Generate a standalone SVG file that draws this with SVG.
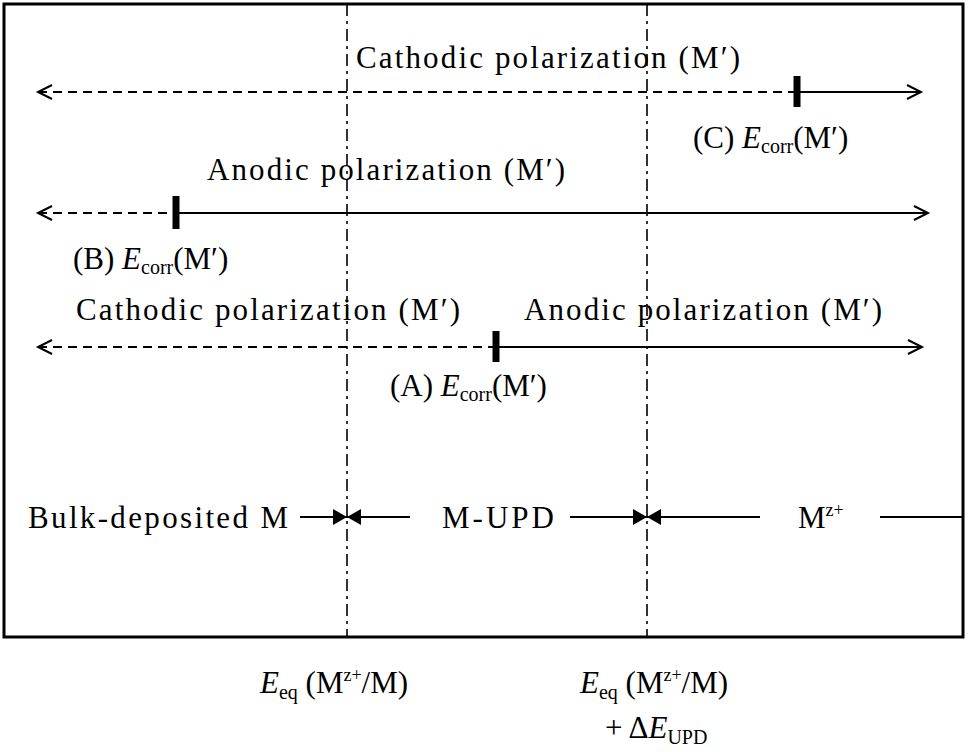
<svg xmlns="http://www.w3.org/2000/svg" width="969" height="752" viewBox="0 0 969 752">
<style>
text,tspan{font-family:"Liberation Serif",serif;font-size:31px;fill:#000}
.sub{font-size:20px}
.sup{font-size:18px}
.d{stroke:#000;stroke-width:2;stroke-dasharray:9,6;fill:none}
.s{stroke:#000;stroke-width:2;fill:none}
.dd{stroke:#000;stroke-width:1.6;stroke-dasharray:12,5,3,5;fill:none}
</style>
<defs>
<marker id="o" markerWidth="20" markerHeight="20" refX="16" refY="8" orient="auto-start-reverse" markerUnits="userSpaceOnUse"><path d="M2,1 L16,8 L2,15" fill="none" stroke="#000" stroke-width="2"/></marker>
<marker id="f" markerWidth="20" markerHeight="20" refX="14" refY="8" orient="auto" markerUnits="userSpaceOnUse"><path d="M0,0 L14,8 L0,16 Z" fill="#000"/></marker>
</defs>
<rect x="4" y="4" width="959" height="633" fill="#fff" stroke="#000" stroke-width="3"/>
<g id="guides">
<line class="dd" x1="347" y1="4" x2="347" y2="637"/>
<line class="dd" x1="647" y1="4" x2="647" y2="637"/>
</g>
<g id="connectors">
<line class="d" x1="38" y1="92" x2="797" y2="92" marker-start="url(#o)"/>
<line class="s" x1="797" y1="92" x2="921" y2="92" marker-end="url(#o)"/>
<line class="d" x1="38" y1="213" x2="176" y2="213" marker-start="url(#o)"/>
<line class="s" x1="176" y1="213" x2="928" y2="213" marker-end="url(#o)"/>
<line class="d" x1="38" y1="347" x2="496" y2="347" marker-start="url(#o)"/>
<line class="s" x1="496" y1="347" x2="922" y2="347" marker-end="url(#o)"/>
<line class="s" x1="300" y1="517" x2="347" y2="517" marker-end="url(#f)"/>
<line class="s" x1="410" y1="517" x2="347" y2="517" marker-end="url(#f)"/>
<line class="s" x1="570" y1="517" x2="647" y2="517" marker-end="url(#f)"/>
<line class="s" x1="760" y1="517" x2="647" y2="517" marker-end="url(#f)"/>
<line class="s" x1="880" y1="517" x2="963" y2="517"/>
</g>
<g id="ticks" stroke="#000" stroke-width="7">
<line x1="797" y1="76" x2="797" y2="107"/>
<line x1="176" y1="196" x2="176" y2="229"/>
<line x1="496" y1="331" x2="496" y2="362"/>
</g>
<g id="rowC">
<text x="356" y="68" textLength="384">Cathodic polarization (M′)</text>
<text x="693" y="148">(C) <tspan font-style="italic">E</tspan><tspan class="sub" dy="5">corr</tspan><tspan dy="-5">(M′)</tspan></text>
</g>
<g id="rowB">
<text x="207" y="180" textLength="358">Anodic polarization (M′)</text>
<text x="73" y="269">(B) <tspan font-style="italic">E</tspan><tspan class="sub" dy="5">corr</tspan><tspan dy="-5">(M′)</tspan></text>
</g>
<g id="rowA">
<text x="76" y="320" textLength="384">Cathodic polarization (M′)</text>
<text x="524" y="320" textLength="358">Anodic polarization (M′)</text>
<text x="390" y="396">(A) <tspan font-style="italic">E</tspan><tspan class="sub" dy="5">corr</tspan><tspan dy="-5">(M′)</tspan></text>
</g>
<g id="regions">
<text x="28" y="528" textLength="260">Bulk-deposited M</text>
<text x="442" y="528" textLength="112">M-UPD</text>
<text x="798" y="528">M<tspan class="sup" dy="-12">z+</tspan></text>
</g>
<g id="labels">
<text x="260" y="693"><tspan font-style="italic">E</tspan><tspan class="sub" dy="6">eq</tspan><tspan dy="-6"> (M</tspan><tspan class="sup" dy="-12">z+</tspan><tspan dy="12">/M)</tspan></text>
<text x="580" y="693"><tspan font-style="italic">E</tspan><tspan class="sub" dy="6">eq</tspan><tspan dy="-6"> (M</tspan><tspan class="sup" dy="-12">z+</tspan><tspan dy="12">/M)</tspan></text>
<text x="605" y="738">+ Δ<tspan font-style="italic">E</tspan><tspan class="sub" dy="6">UPD</tspan></text>
</g>
</svg>
